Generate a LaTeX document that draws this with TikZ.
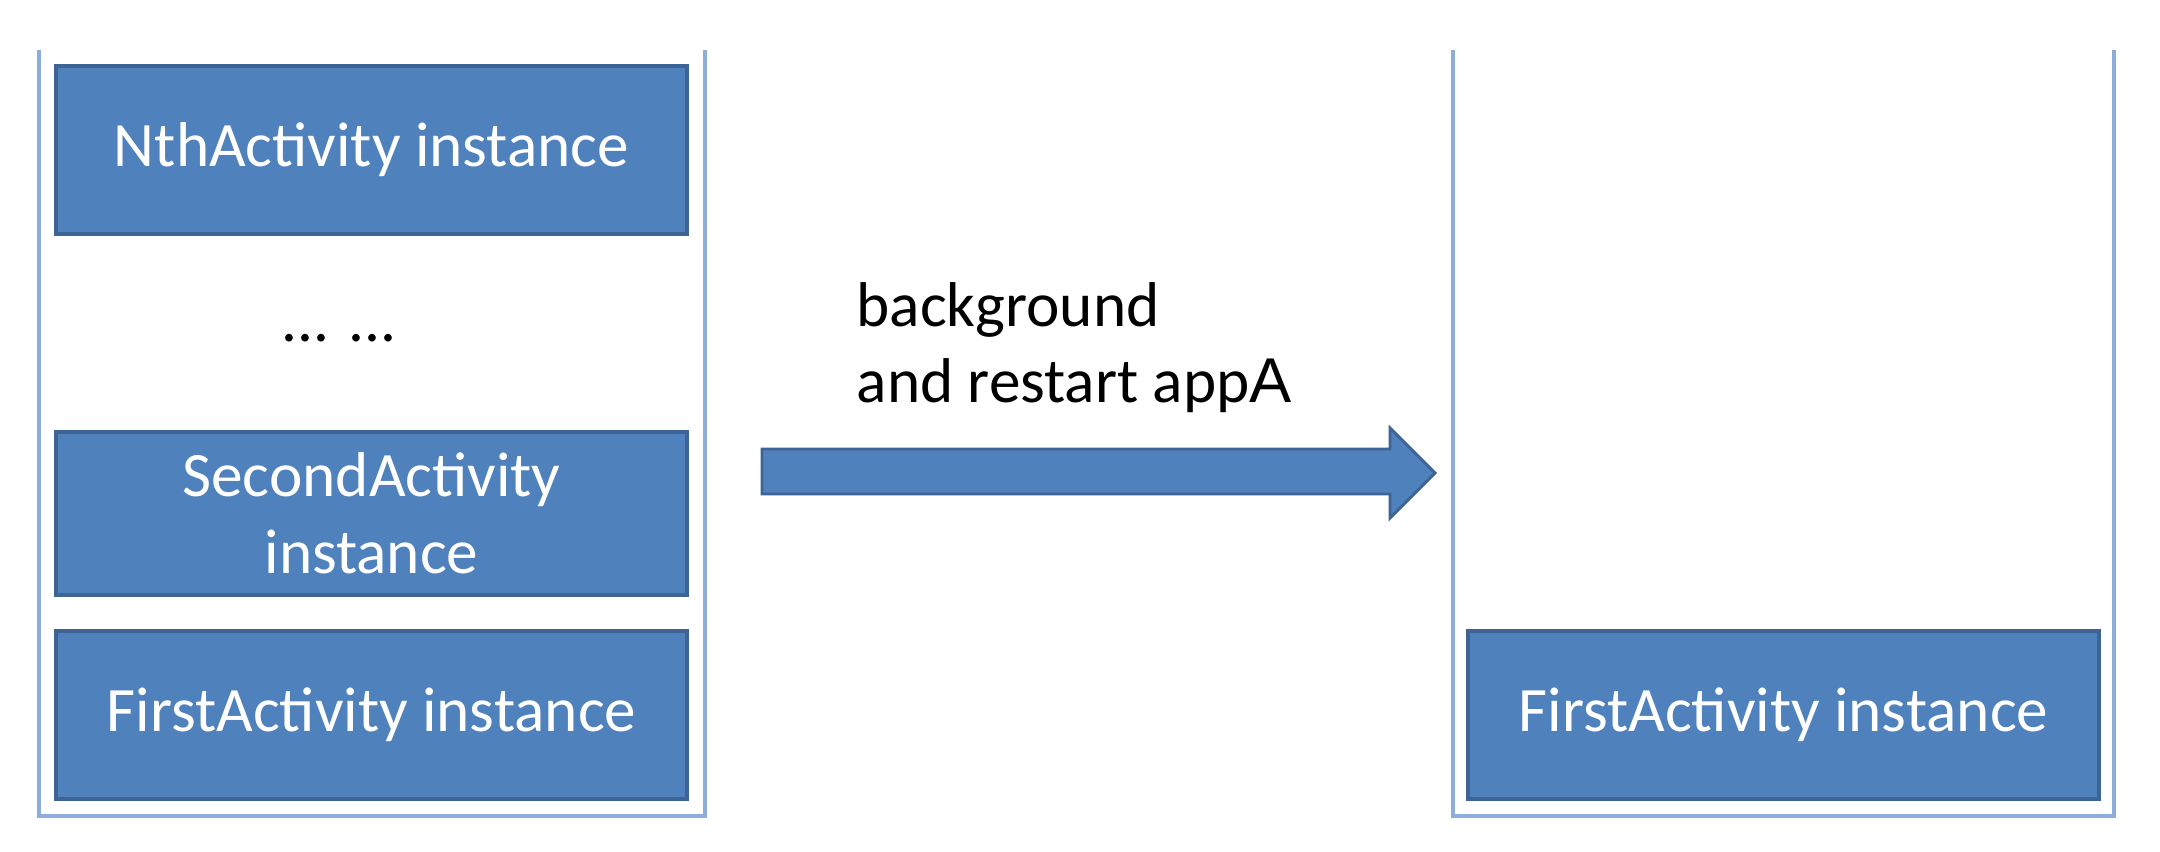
\documentclass[tikz,border=0pt]{standalone}
\usepackage{fontspec}
\setmainfont{Carlito}
\newfontfamily\arialfont{Liberation Sans}
\definecolor{boxblue}{HTML}{4F81BD}
\definecolor{boxedge}{HTML}{3E6496}
\definecolor{stackblue}{HTML}{8DADDC}
\begin{document}
\begin{tikzpicture}[
	actbox/.style={draw=boxedge, line width=1pt, fill=boxblue, text=white, minimum width=6.31cm, minimum height=1.68cm, inner sep=0pt, align=center, font=\fontsize{18}{22}\selectfont},
	stackline/.style={draw=stackblue, line width=1.1pt},
	note/.style={anchor=base west, inner sep=0pt, font=\fontsize{18}{21.6}\selectfont}
	]
		\useasboundingbox (0,0) rectangle (21.6,8.52);
		% the two stacks, open at the top
		\draw[stackline] (0.39,8.02) -- (0.39,0.36) -- (7.05,0.36) -- (7.05,8.02);
		\draw[stackline] (14.53,8.02) -- (14.53,0.36) -- (21.14,0.36) -- (21.14,8.02);
		
		\node[actbox] (nth) at (3.715,7.02) {NthActivity instance};
		\node[anchor=base, inner sep=0pt, font=\fontsize{18}{21.6}\selectfont] (dots) at (3.39,5.10) {... ...};
		\node[actbox, minimum height=1.63cm] (second) at (3.715,3.385) {SecondActivity\\instance};
		\node[actbox] (first) at (3.715,1.37) {FirstActivity instance};
		
		\node[actbox] (firstR) at (17.835,1.37) {FirstActivity instance};
		
		% the block arrow
		\filldraw[fill=boxblue, draw=boxedge, line width=0.8pt] (7.62,4.03) -- (13.90,4.03) -- (13.90,4.24) -- (14.35,3.79) -- (13.90,3.34) -- (13.90,3.58) -- (7.62,3.58) -- cycle;
		\node[note] (bgline) at (8.56,5.25) {background};
		\node[note] (restart) at (8.56,4.49) {and restart app{\arialfont A}};
	\end{tikzpicture}
\end{document}
